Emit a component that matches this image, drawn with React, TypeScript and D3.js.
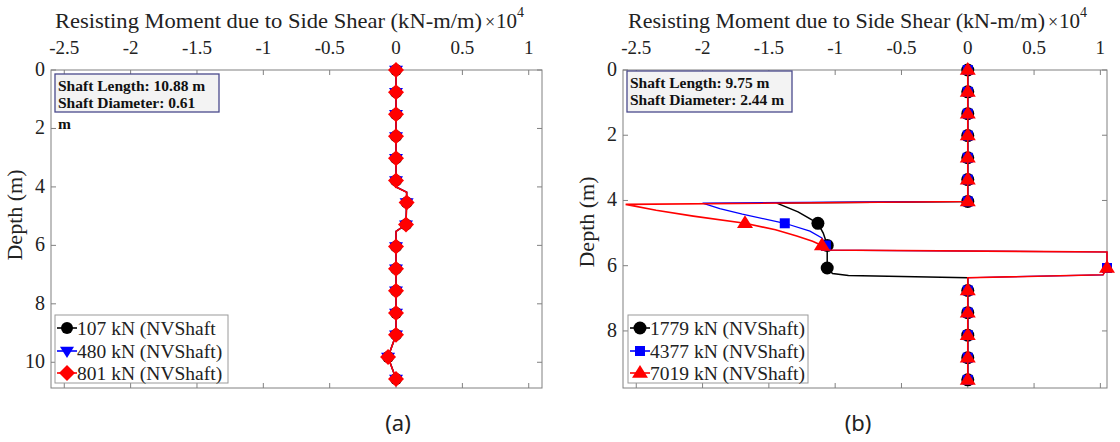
import React from "react";
import * as d3 from "d3";

// ---- shared axis data ----
const xTicks = [-2.5, -2, -1.5, -1, -0.5, 0, 0.5, 1];
const xTickLabels = ["-2.5", "-2", "-1.5", "-1", "-0.5", "0", "0.5", "1"];

// ---- panel (a): shaft 10.88 m x 0.61 m ----
const aDepthTicks = [0, 2, 4, 6, 8, 10];
const aMarkDepth = [0, 0.76, 1.51, 2.27, 3.02, 3.78, 4.53, 5.29, 6.04, 6.8, 7.55, 8.31, 9.06, 9.82, 10.57];
const aMark107 = [0, 0, 0, 0, 0, 0, 0.08, 0.075, 0, 0, 0, 0, 0, -0.06, 0];
const aMark480 = [0, 0, 0, 0, 0, 0, 0.08, 0.075, 0, 0, 0, 0, 0, -0.06, 0];
const aMark801 = [0, 0, 0, 0, 0, 0, 0.08, 0.075, 0, 0, 0, 0, 0, -0.06, 0];
const aLineDepth = [0, 3.78, 4.0, 4.18, 4.53, 5.29, 5.52, 6.04, 9.06, 9.82, 10.57];
const aLine107 = [0, 0, 0, 0.08, 0.08, 0.075, 0, 0, 0, -0.06, 0];
const aLine480 = [0, 0, 0, 0.08, 0.08, 0.075, 0, 0, 0, -0.06, 0];
const aLine801 = [0, 0, 0, 0.08, 0.08, 0.075, 0, 0, 0, -0.06, 0];

// ---- panel (b): shaft 9.75 m x 2.44 m ----
const bDepthTicks = [0, 2, 4, 6, 8];
const bMarkDepth = [0, 0.67, 1.34, 2.01, 2.69, 3.36, 4.03, 4.7, 5.38, 6.07, 6.76, 7.44, 8.13, 8.82, 9.5];
const bMark1779 = [0, 0, 0, 0, 0, 0, 0, -1.13, -1.06, -1.06, 0, 0, 0, 0, 0];
const bMark4377 = [0, 0, 0, 0, 0, 0, 0, -1.38, -1.07, 1.05, 0, 0, 0, 0, 0];
const bMark7019 = [0, 0, 0, 0, 0, 0, 0, -1.68, -1.1, 1.05, 0, 0, 0, 0, 0];
const bLine1779Depth = [0, 4.03, 4.08, 4.35, 4.7, 5.0, 5.36, 6.07, 6.24, 6.3, 6.37, 9.5];
const bLine1779 = [0, 0, -1.44, -1.28, -1.13, -1.09, -1.06, -1.06, -1.02, -0.9, 0, 0];
const bLine4377Depth = [0, 4.03, 4.08, 4.25, 4.42, 4.7, 4.94, 5.15, 5.36, 5.52, 5.58, 6.07, 6.28, 6.37, 9.5];
const bLine4377 = [0, 0, -2.0, -1.87, -1.7, -1.38, -1.19, -1.1, -1.07, -1.1, 1.05, 1.05, 1.02, 0, 0];
const bLine7019Depth = [0, 4.03, 4.12, 4.3, 4.48, 4.7, 4.9, 5.09, 5.25, 5.38, 5.52, 5.58, 6.07, 6.28, 6.37, 9.5];
const bLine7019 = [0, 0, -2.58, -2.35, -2.07, -1.68, -1.45, -1.29, -1.17, -1.1, -1.1, 1.05, 1.05, 1.02, 0, 0];

const serif = "'Liberation Serif', 'Times New Roman', serif";
const axisColor = "#808080";

type Mk = "circle" | "triDown" | "diamond" | "square" | "triUp";

function markerPath(kind: Mk, s: number) {
  if (kind === "diamond") return `M0,${-s}L${s},0L0,${s}L${-s},0Z`;
  if (kind === "triDown") return `M${-s},${-s * 0.6}L${s},${-s * 0.6}L0,${s}Z`;
  if (kind === "triUp") return `M${-s},${s * 0.6}L${s},${s * 0.6}L0,${-s}Z`;
  if (kind === "square") return `M${-s},${-s}H${s}V${s}H${-s}Z`;
  return d3.symbol(d3.symbolCircle, Math.PI * s * s)() as string;
}

interface Series {
  name: string;
  color: string;
  marker: Mk;
  size: number;
  width: number;
  lineDepth: number[];
  lineVal: number[];
  markDepth: number[];
  markVal: number[];
}

interface PanelProps {
  x0: number;
  x1: number;
  xDomain: [number, number];
  yDomain: [number, number];
  yTicks: number[];
  series: Series[];
  info: string[];
  infoBox: [number, number, number, number];
  legendX: number;
  legendW: number;
  titleX: number;
  titleW: number;
  depthLabelY: number;
}

function Panel(p: PanelProps) {
  const top = 70;
  const bottom = 388;
  const x = d3.scaleLinear().domain(p.xDomain).range([p.x0, p.x1]);
  const y = d3.scaleLinear().domain(p.yDomain).range([top, bottom]);
  const line = d3
    .line<[number, number]>()
    .x((d) => x(d[1]))
    .y((d) => y(d[0]));

  const lgTop = 315;
  const lgRows = [328, 351, 373];

  return (
    <g>
      {/* title */}
      <text x={p.titleX} y={28} fontFamily={serif} fontSize={22} fill="#222" textLength={p.titleW} lengthAdjust="spacingAndGlyphs">
        Resisting Moment due to Side Shear (kN-m/m)
      </text>
      <text x={p.titleX + p.titleW + 3} y={28} fontFamily={serif} fontSize={18} fill="#222">
        ×
      </text>
      <text x={p.titleX + p.titleW + 14} y={28} fontFamily={serif} fontSize={21} fill="#222">
        10
      </text>
      <text x={p.titleX + p.titleW + 35} y={17} fontFamily={serif} fontSize={14} fill="#222">
        4
      </text>

      {/* box */}
      <rect x={p.x0} y={top} width={p.x1 - p.x0} height={bottom - top} fill="white" stroke={axisColor} strokeWidth={1} />

      {/* x ticks (top label) */}
      {xTicks.map((t, i) => (
        <g key={"xt" + t}>
          <line x1={x(t)} x2={x(t)} y1={top} y2={top + 5} stroke={axisColor} />
          <line x1={x(t)} x2={x(t)} y1={bottom} y2={bottom - 5} stroke={axisColor} />
          <text x={x(t)} y={54} textAnchor="middle" fontFamily={serif} fontSize={19} fill="#222">
            {xTickLabels[i]}
          </text>
        </g>
      ))}

      {/* y ticks */}
      {p.yTicks.map((t) => (
        <g key={"yt" + t}>
          <line x1={p.x0} x2={p.x0 + 5} y1={y(t)} y2={y(t)} stroke={axisColor} />
          <line x1={p.x1} x2={p.x1 - 5} y1={y(t)} y2={y(t)} stroke={axisColor} />
          <text x={p.x0 - 6} y={y(t) + 6} textAnchor="end" fontFamily={serif} fontSize={20} fill="#222">
            {t}
          </text>
        </g>
      ))}

      <text
        transform={`translate(${p.x0 - 29},${p.depthLabelY}) rotate(-90)`}
        textAnchor="middle"
        fontFamily={serif}
        fontSize={22}
        fill="#222"
      >
        Depth (m)
      </text>

      {/* info box */}
      <rect
        x={p.infoBox[0]}
        y={p.infoBox[1]}
        width={p.infoBox[2]}
        height={p.infoBox[3]}
        fill="#f3f3f3"
        stroke="#4a4a8c"
        strokeWidth={1.3}
      />
      {p.info.map((s, i) => (
        <text
          key={"inf" + i}
          x={p.infoBox[0] + 3}
          y={p.infoBox[1] + 17 + i * 17}
          fontFamily={serif}
          fontWeight="bold"
          fontSize={15.5}
          fill="#111"
        >
          {s}
        </text>
      ))}

      {/* series */}
      {p.series.map((s) => {
        const pts = s.lineDepth.map((d, i) => [d, s.lineVal[i]] as [number, number]);
        return (
          <g key={s.name}>
            <path d={line(pts) as string} fill="none" stroke={s.color} strokeWidth={s.width} />
            {s.markDepth.map((d, i) => (
              <path
                key={i}
                transform={`translate(${x(s.markVal[i])},${y(d)})`}
                d={markerPath(s.marker, s.size)}
                fill={s.color}
              />
            ))}
          </g>
        );
      })}

      {/* legend */}
      <rect x={p.legendX} y={lgTop} width={p.legendW} height={68} fill="white" stroke="#9a9a9a" strokeWidth={1} />
      {p.series.map((s, i) => (
        <g key={"lg" + s.name}>
          <line x1={p.legendX + 2} x2={p.legendX + 22} y1={lgRows[i]} y2={lgRows[i]} stroke={s.color} strokeWidth={1.6} />
          <path transform={`translate(${p.legendX + 12},${lgRows[i]})`} d={markerPath(s.marker, s.size)} fill={s.color} />
          <text x={p.legendX + 22} y={lgRows[i] + 7} fontFamily={serif} fontSize={19.5} fill="#222">
            {s.name}
          </text>
        </g>
      ))}
    </g>
  );
}

export default function App() {
  const aSeries: Series[] = [
    { name: "107 kN (NVShaft", color: "#000000", marker: "circle", size: 6, width: 1.5, lineDepth: aLineDepth, lineVal: aLine107, markDepth: aMarkDepth, markVal: aMark107 },
    { name: "480 kN (NVShaft)", color: "#0000ff", marker: "triDown", size: 7, width: 1.2, lineDepth: aLineDepth, lineVal: aLine480, markDepth: aMarkDepth, markVal: aMark480 },
    { name: "801 kN (NVShaft)", color: "#ff0000", marker: "diamond", size: 8, width: 1.6, lineDepth: aLineDepth, lineVal: aLine801, markDepth: aMarkDepth, markVal: aMark801 },
  ];
  const bSeries: Series[] = [
    { name: "1779 kN (NVShaft)", color: "#000000", marker: "circle", size: 6.5, width: 1.5, lineDepth: bLine1779Depth, lineVal: bLine1779, markDepth: bMarkDepth, markVal: bMark1779 },
    { name: "4377 kN (NVShaft)", color: "#0000ff", marker: "square", size: 5, width: 1.2, lineDepth: bLine4377Depth, lineVal: bLine4377, markDepth: bMarkDepth, markVal: bMark4377 },
    { name: "7019 kN (NVShaft)", color: "#ff0000", marker: "triUp", size: 8, width: 1.6, lineDepth: bLine7019Depth, lineVal: bLine7019, markDepth: bMarkDepth, markVal: bMark7019 },
  ];

  return (
    <svg width={1120} height={442} style={{ position: "absolute", left: 0, top: 0, background: "white" }}>
      <Panel
        x0={51}
        x1={542}
        xDomain={[-2.6, 1.1]}
        yDomain={[0, 10.88]}
        yTicks={aDepthTicks}
        series={aSeries}
        info={["Shaft Length: 10.88 m", "Shaft Diameter: 0.61"]}
        infoBox={[55, 74, 164, 38]}
        legendX={55}
        legendW={173}
        titleX={55}
        titleW={427}
        depthLabelY={215}
      />
      <text x={58} y={129} fontFamily={serif} fontWeight="bold" fontSize={15.5} fill="#111">
        m
      </text>
      <Panel
        x0={623}
        x1={1107}
        xDomain={[-2.6, 1.05]}
        yDomain={[0, 9.75]}
        yTicks={bDepthTicks}
        series={bSeries}
        info={["Shaft Length: 9.75 m", "Shaft Diameter: 2.44 m"]}
        infoBox={[627, 71, 165, 41]}
        legendX={628}
        legendW={180}
        titleX={628}
        titleW={417}
        depthLabelY={222}
      />
      <text x={398} y={431} textAnchor="middle" fontFamily="'Noto Sans', sans-serif" fontSize={22} fill="#222">
        (a)
      </text>
      <text x={858} y={431} textAnchor="middle" fontFamily="'Noto Sans', sans-serif" fontSize={22} fill="#222">
        (b)
      </text>
    </svg>
  );
}
